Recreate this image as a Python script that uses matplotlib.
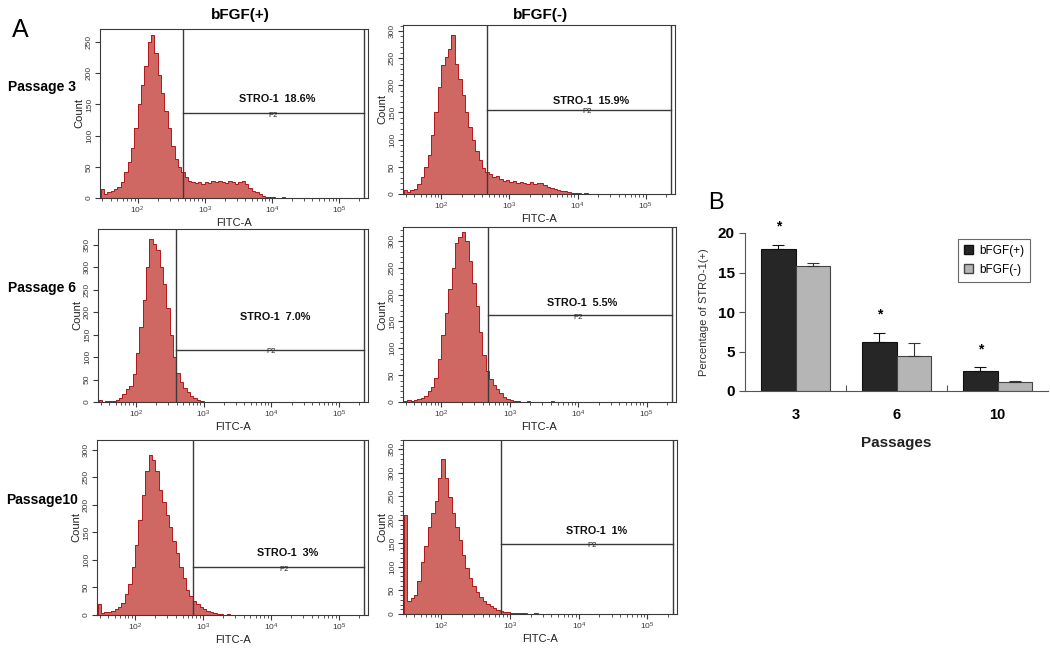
#!/usr/bin/env python3
"""
STRO-1 flow cytometry panels (A) and summary bar chart (B).
Writes out.png next to the script.
"""

import matplotlib
matplotlib.use("Agg")
import matplotlib.pyplot as plt
import numpy as np
from matplotlib.patches import Patch
from matplotlib.ticker import FixedLocator, MultipleLocator, LogLocator, NullFormatter

plt.rcParams["font.family"] = ["Liberation Sans", "DejaVu Sans"]

# ---------------------------------------------------------------------
# Panel A - histogram counts, one value per log10 bin (step 0.05)
# ---------------------------------------------------------------------
LOG_START = 1.45
LOG_STEP = 0.05

P3_PLUS = [14, 6, 9, 12, 14, 18, 26, 42, 58, 80, 112, 150, 182, 212, 250, 262,
           232, 198, 168, 140, 112, 84, 62, 50, 42, 34, 28, 26, 24, 25, 23, 26,
           24, 27, 25, 28, 26, 24, 27, 25, 22, 26, 28, 22, 16, 12, 9, 6, 4, 2,
           1, 1, 0, 0, 1, 0, 0, 0, 0, 0]
P3_MINUS = [8, 4, 7, 10, 18, 32, 50, 72, 108, 150, 196, 238, 252, 266, 292, 240,
            212, 182, 150, 124, 100, 80, 62, 48, 40, 36, 32, 33, 28, 24, 25, 22,
            24, 21, 23, 20, 19, 22, 18, 20, 21, 17, 13, 11, 9, 7, 6, 5, 3, 2,
            1, 1, 0, 1, 0, 0, 0, 0, 0, 0]
P6_PLUS = [4, 1, 2, 2, 3, 5, 9, 18, 28, 36, 62, 110, 168, 228, 300, 362,
           352, 338, 300, 262, 210, 150, 100, 64, 44, 32, 22, 14, 8, 4, 2, 1,
           1, 0, 0, 1, 0, 0, 0, 0, 1, 0, 0, 0, 0, 0, 0, 0, 0, 0,
           0, 0, 0, 0, 0, 0, 0, 0, 0, 1]
P6_MINUS = [2, 3, 2, 4, 5, 8, 12, 20, 28, 45, 80, 125, 165, 210, 250, 296,
            308, 316, 300, 262, 222, 178, 130, 88, 58, 42, 32, 24, 16, 10, 6, 3,
            1, 1, 0, 0, 1, 0, 0, 0, 0, 0, 0, 1, 0, 0, 0, 0, 0, 0,
            0, 0, 0, 0, 0, 0, 0, 0, 0, 0]
P10_PLUS = [20, 4, 5, 5, 7, 10, 14, 22, 38, 56, 88, 128, 172, 218, 262, 290,
            282, 262, 228, 205, 182, 160, 134, 112, 88, 68, 46, 34, 26, 20, 14, 10,
            7, 5, 3, 2, 1, 0, 1, 0, 0, 0, 0, 0, 0, 0, 0, 0, 0, 0,
            0, 0, 0, 0, 0, 0, 0, 0, 0, 0]
P10_MINUS = [210, 28, 34, 40, 70, 110, 145, 185, 215, 240, 290, 330, 290, 248, 215, 185,
             158, 125, 98, 76, 60, 46, 36, 28, 22, 17, 13, 9, 7, 5, 4, 3,
             3, 2, 2, 2, 1, 1, 2, 1, 1, 1, 1, 0, 0, 0, 0, 0, 0, 0,
             0, 0, 0, 0, 0, 0, 0, 0, 0, 0]

HIST_COUNTS = [P3_PLUS, P3_MINUS, P6_PLUS, P6_MINUS, P10_PLUS, P10_MINUS]
HIST_YMAX = [271, 311, 385, 326, 318, 370]
HIST_YSTEP_MAX = [250, 300, 350, 300, 300, 350]
GATE_LOG = [2.68, 2.67, 2.59, 2.68, 2.85, 2.87]
GATE_Y = [137, 155, 116, 162, 87, 149]
GATE_TEXT = ["STRO-1  18.6%", "STRO-1  15.9%", "STRO-1  7.0%",
             "STRO-1  5.5%", "STRO-1  3%", "STRO-1  1%"]
GATE_TEXT_Y = [158, 171, 189, 184, 113, 176]
GATE_TEXT_LOG = [4.08, 4.2, 4.06, 4.06, 4.25, 4.26]

ROW_LABELS = ["Passage 3", "Passage 6", "Passage10"]
COL_LABELS = ["bFGF(+)", "bFGF(-)"]

# ---------------------------------------------------------------------
# Panel B - percentage of STRO-1(+) cells
# ---------------------------------------------------------------------
PASSAGES = ["3", "6", "10"]
PCT_PLUS = [17.93, 6.2, 2.53]
PCT_MINUS = [15.82, 4.43, 1.1]
ERR_PLUS = [0.55, 1.18, 0.47]
ERR_MINUS = [0.34, 1.6, 0.17]
SIGNIFICANT = [True, True, True]

FILL = "#cd5f5a"
EDGE = "#b3161a"
FRAME = "#3a3a3a"

# axes boxes in pixels: left, right, top, bottom (figure is 1050 x 654)
W, H = 1050.0, 654.0
HIST_BOXES = [
    (100, 368, 29, 198),
    (403, 675, 25, 194),
    (98, 368, 229, 402),
    (403, 676, 227, 402),
    (97, 368, 440, 615),
    (403, 677, 440, 614),
]


def px_axes(fig, box):
    left, right, top, bottom = box
    return fig.add_axes([left / W, 1 - bottom / H, (right - left) / W, (bottom - top) / H])


def draw_hist(ax, i):
    counts = np.array(HIST_COUNTS[i], dtype=float)
    edges = 10 ** (LOG_START + LOG_STEP * np.arange(len(counts) + 1))
    ymax = HIST_YMAX[i]

    ax.stairs(counts, edges, fill=True, color=FILL, alpha=0.95)
    ax.stairs(counts, edges, color=EDGE, linewidth=0.7)

    # P2 gate: left edge, right edge and marker line
    g_left = 10 ** GATE_LOG[i]
    g_right = 10 ** 5.37
    ax.plot([g_left, g_left], [0, ymax], color=FRAME, lw=1.0)
    ax.plot([g_right, g_right], [0, ymax], color=FRAME, lw=1.0)
    ax.plot([g_left, g_right], [GATE_Y[i], GATE_Y[i]], color=FRAME, lw=1.0)
    ax.text(10 ** GATE_TEXT_LOG[i], GATE_TEXT_Y[i], GATE_TEXT[i],
            ha="center", va="center", fontsize=7.8, weight="bold", color="#111")
    ax.text(10 ** (GATE_TEXT_LOG[i] - 0.06), GATE_Y[i] - 4, "P2",
            ha="center", va="center", fontsize=5.5, color="#222")

    ax.set_xscale("log")
    ax.set_xlim(10 ** 1.44, 10 ** 5.43)
    ax.set_ylim(0, ymax)
    ax.xaxis.set_major_locator(FixedLocator([1e2, 1e3, 1e4, 1e5]))
    ax.xaxis.set_minor_locator(LogLocator(base=10, subs=np.arange(2, 10)))
    ax.xaxis.set_minor_formatter(NullFormatter())
    ax.yaxis.set_major_locator(FixedLocator(np.arange(0, HIST_YSTEP_MAX[i] + 1, 50)))
    if i % 2 == 1:
        ax.yaxis.set_minor_locator(MultipleLocator(10))

    ax.tick_params(axis="both", which="major", direction="out", length=3.5,
                   width=0.8, labelsize=6, pad=1.5, colors=FRAME)
    ax.tick_params(axis="both", which="minor", direction="out", length=2.2,
                   width=0.6, colors=FRAME)
    plt.setp(ax.get_yticklabels(), rotation=90, va="center")
    for sp in ax.spines.values():
        sp.set_color(FRAME)
        sp.set_linewidth(0.8)

    ax.set_xlabel("FITC-A", fontsize=8, labelpad=1, color="#222")
    ax.set_ylabel("Count", fontsize=8, labelpad=1, color="#222")


def draw_bars(ax):
    x = np.arange(len(PASSAGES))
    width = 0.34
    ax.bar(x - width / 2, PCT_PLUS, width, color="#262626", edgecolor="#111",
           linewidth=0.8, label="bFGF(+)",
           yerr=[np.zeros(len(ERR_PLUS)), ERR_PLUS],
           error_kw=dict(ecolor="#111", elinewidth=0.8, capsize=4, capthick=0.8))
    ax.bar(x + width / 2, PCT_MINUS, width, color="#b5b5b5", edgecolor="#444",
           linewidth=0.8, label="bFGF(-)",
           yerr=[np.zeros(len(ERR_MINUS)), ERR_MINUS],
           error_kw=dict(ecolor="#333", elinewidth=0.8, capsize=4, capthick=0.8))

    for xi, val, err, sig in zip(x, PCT_PLUS, ERR_PLUS, SIGNIFICANT):
        if sig:
            ax.text(xi - width / 2, val + err + 2.3, "*", ha="center",
                    va="center", fontsize=10, weight="bold", clip_on=False)

    ax.set_xlim(-0.5, len(PASSAGES) - 0.5)
    ax.set_ylim(0, 20)
    ax.set_yticks([0, 5, 10, 15, 20])
    ax.set_xticks(x)
    ax.set_xticklabels(PASSAGES, fontsize=10.5, weight="bold")
    ax.set_xticks(x[:-1] + 0.5, minor=True)
    ax.tick_params(axis="x", which="major", length=0, pad=12)
    ax.tick_params(axis="x", which="minor", direction="in", length=4, width=0.8,
                   color="#555")
    ax.tick_params(axis="y", direction="out", length=4, width=0.8,
                   labelsize=11, color="#555")
    for lab in ax.get_yticklabels():
        lab.set_weight("bold")
    ax.spines["top"].set_visible(False)
    ax.spines["right"].set_visible(False)
    ax.spines["left"].set_color("#555")
    ax.spines["bottom"].set_color("#555")

    ax.set_ylabel("Percentage of STRO-1(+)", fontsize=8, color="#333", labelpad=6)
    ax.set_xlabel("Passages", fontsize=11, weight="bold", color="#222", labelpad=10)

    handles = [Patch(facecolor="#262626", edgecolor="#111", label="bFGF(+)"),
               Patch(facecolor="#b5b5b5", edgecolor="#444", label="bFGF(-)")]
    leg = ax.legend(handles=handles, loc="upper right", bbox_to_anchor=(0.96, 1.0),
                    fontsize=8.5, fancybox=False, handlelength=0.8,
                    handleheight=0.8, handletextpad=0.5, borderpad=0.5,
                    labelspacing=0.6)
    leg.get_frame().set_edgecolor("#444")
    leg.get_frame().set_linewidth(0.8)


def main():
    fig = plt.figure(figsize=(10.5, 6.54), dpi=100)
    fig.patch.set_facecolor("white")

    for i, box in enumerate(HIST_BOXES):
        ax = px_axes(fig, box)
        draw_hist(ax, i)

    # Panel A labels
    fig.text(12 / W, 1 - 30 / H, "A", fontsize=18, ha="left", va="center")
    fig.text(240 / W, 1 - 15 / H, COL_LABELS[0], fontsize=11, weight="bold",
             ha="center", va="center")
    fig.text(540 / W, 1 - 15 / H, COL_LABELS[1], fontsize=11, weight="bold",
             ha="center", va="center")
    for label, y in zip(ROW_LABELS, [87, 288, 500]):
        fig.text(42 / W, 1 - y / H, label, fontsize=10, weight="bold",
                 ha="center", va="center")

    # Panel B
    axb = px_axes(fig, (745, 1048, 233, 391))
    draw_bars(axb)
    fig.text(708 / W, 1 - 203 / H, "B", fontsize=17, ha="left", va="center")

    fig.savefig("out.png", dpi=100, facecolor="white")


if __name__ == "__main__":
    main()
